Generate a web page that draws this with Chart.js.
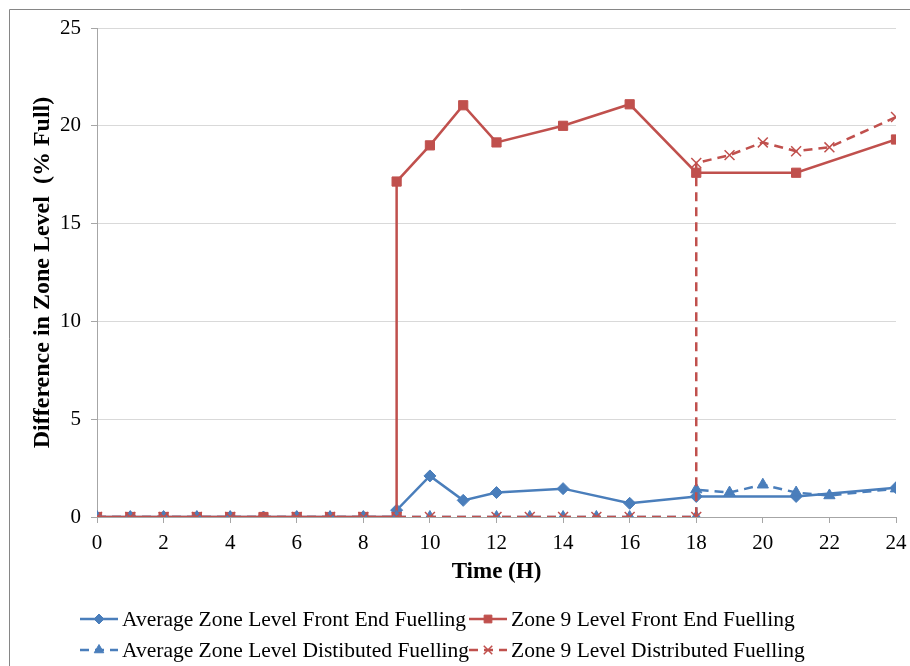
<!DOCTYPE html>
<html>
<head>
<meta charset="utf-8">
<script src="https://cdn.jsdelivr.net/npm/chart.js@4/dist/chart.umd.min.js"></script>
<style>
  body { margin: 0; background: #fff; }
  #wrap { width: 910px; height: 666px; position: relative; }
</style>
</head>
<body>
<div id="wrap"><canvas id="chart"></canvas></div>
<script>
// hours for the front end fuelling runs (9 appears twice: the step)
const frontHours = [0, 1, 2, 3, 4, 5, 6, 7, 8, 9, 9, 10, 11, 12, 14, 16, 18, 21, 24];
const avgFront = [0, 0, 0, 0, 0, 0, 0, 0, 0, 0, 0.35, 2.1, 0.85, 1.25, 1.45, 0.7, 1.05, 1.05, 1.5];
const zoneFront = [0, 0, 0, 0, 0, 0, 0, 0, 0, 0, 17.15, 19.0, 21.05, 19.15, 20.0, 21.1, 17.6, 17.6, 19.3];

// hours for the distributed fuelling runs (18 appears twice)
const distHours = [0, 1, 2, 3, 4, 6, 7, 8, 9, 10, 12, 13, 14, 15, 16, 18, 18, 19, 20, 21, 22, 24];
const avgDist = [0, 0, 0, 0, 0, 0, 0, 0, 0, 0, 0, 0, 0, 0, 0, 0, 1.4, 1.25, 1.65, 1.25, 1.1, 1.45];
const zoneDist = [0, 0, 0, 0, 0, 0, 0, 0, 0, 0, 0, 0, 0, 0, 0, 0, 18.1, 18.5, 19.15, 18.7, 18.9, 20.45];

const seriesNames = [
  'Average Zone Level Front End Fuelling',
  'Zone 9 Level Front End Fuelling',
  'Average Zone Level Distibuted Fuelling',
  'Zone 9 Level Distributed Fuelling'
];
const xTitle = 'Time (H)';
const yTitle = 'Difference in Zone Level  (% Full)';

const BLUE = '#4a7ebb';
const RED = '#c0504d';
const FONT = "'Liberation Serif', 'Times New Roman', serif";

const pairs = (xs, ys) => xs.map((x, i) => ({ x: x, y: ys[i] }));

function makeSet(label, xs, ys, color, style, radius, dash, order) {
  return {
    label: label,
    data: pairs(xs, ys),
    borderColor: color,
    backgroundColor: color,
    borderWidth: 2.5,
    borderDash: dash,
    pointStyle: style,
    pointRadius: radius,
    pointBorderColor: color,
    pointBackgroundColor: color,
    pointBorderWidth: style === 'crossRot' ? 1.5 : 1,
    tension: 0,
    order: order
  };
}

// 2x2 legend below the x axis title, plus the frame round the figure
const gridLegend = {
  id: 'gridLegend',
  beforeDraw(chart) {
    const ctx = chart.ctx;
    ctx.save();
    ctx.strokeStyle = '#868686';
    ctx.lineWidth = 1;
    ctx.beginPath();
    ctx.moveTo(9.5, 700);
    ctx.lineTo(9.5, 9.5);
    ctx.lineTo(920, 9.5);
    ctx.stroke();
    ctx.restore();
  },
  afterDraw(chart) {
    const ctx = chart.ctx;
    const cols = [80, 469];
    const rows = [619, 650];
    ctx.save();
    ctx.font = '21.5px ' + FONT;
    ctx.textBaseline = 'middle';
    chart.data.datasets.forEach((ds, i) => {
      const x = cols[i % 2];
      const y = rows[Math.floor(i / 2)];
      const w = 38;
      ctx.strokeStyle = ds.borderColor;
      ctx.fillStyle = ds.backgroundColor;
      ctx.lineWidth = ds.borderWidth;
      ctx.setLineDash(ds.borderDash || []);
      ctx.beginPath();
      ctx.moveTo(x, y);
      ctx.lineTo(x + w, y);
      ctx.stroke();
      ctx.setLineDash([]);
      ctx.lineWidth = ds.pointBorderWidth;
      Chart.helpers.drawPoint(ctx, {
        pointStyle: ds.pointStyle,
        radius: ds.pointRadius - 1,
        borderWidth: ds.pointBorderWidth,
        rotation: 0
      }, x + w / 2, y);
      ctx.fillStyle = '#000';
      ctx.fillText(ds.label, x + w + 4, y + 1);
    });
    ctx.restore();
  }
};

const datasets = [
  makeSet(seriesNames[0], frontHours, avgFront, BLUE, 'rectRot', 6, [], 4),
  makeSet(seriesNames[1], frontHours, zoneFront, RED, 'rect', 6.5, [], 3),
  makeSet(seriesNames[2], distHours, avgDist, BLUE, 'triangle', 6.5, [9, 6], 2),
  makeSet(seriesNames[3], distHours, zoneDist, RED, 'crossRot', 7, [9, 6], 1)
];

new Chart(document.getElementById('chart'), {
  type: 'line',
  data: { datasets: datasets },
  plugins: [gridLegend],
  options: {
    responsive: true,
    maintainAspectRatio: false,
    animation: false,
    layout: { padding: { top: 28, right: 14, bottom: 80, left: 0 } },
    plugins: {
      legend: { display: false },
      tooltip: { enabled: false }
    },
    scales: {
      x: {
        type: 'linear',
        min: 0,
        max: 24,
        afterFit(scale) {
          scale.height = 69;
          scale.paddingLeft = 0;
          scale.paddingRight = 0;
        },
        ticks: {
          stepSize: 2,
          color: '#000',
          padding: 8,
          maxRotation: 0,
          font: { family: FONT, size: 21 }
        },
        grid: {
          drawOnChartArea: false,
          drawTicks: true,
          tickLength: 6,
          tickColor: '#a6a6a6'
        },
        border: { color: '#a6a6a6', width: 1 },
        title: {
          display: true,
          text: xTitle,
          color: '#000',
          padding: { top: 0, bottom: 0 },
          font: { family: FONT, size: 23, weight: 'bold' }
        }
      },
      y: {
        min: 0,
        max: 25,
        afterFit(scale) { scale.width = 97; },
        ticks: {
          stepSize: 5,
          color: '#000',
          padding: 10,
          font: { family: FONT, size: 21 }
        },
        grid: {
          color: '#d9d9d9',
          drawTicks: true,
          tickLength: 6,
          tickColor: '#a6a6a6'
        },
        border: { color: '#a6a6a6', width: 1 },
        title: {
          display: true,
          text: yTitle,
          color: '#000',
          padding: { top: 28, bottom: 0 },
          font: { family: FONT, size: 24, weight: 'bold' }
        }
      }
    }
  }
});
</script>
</body>
</html>
